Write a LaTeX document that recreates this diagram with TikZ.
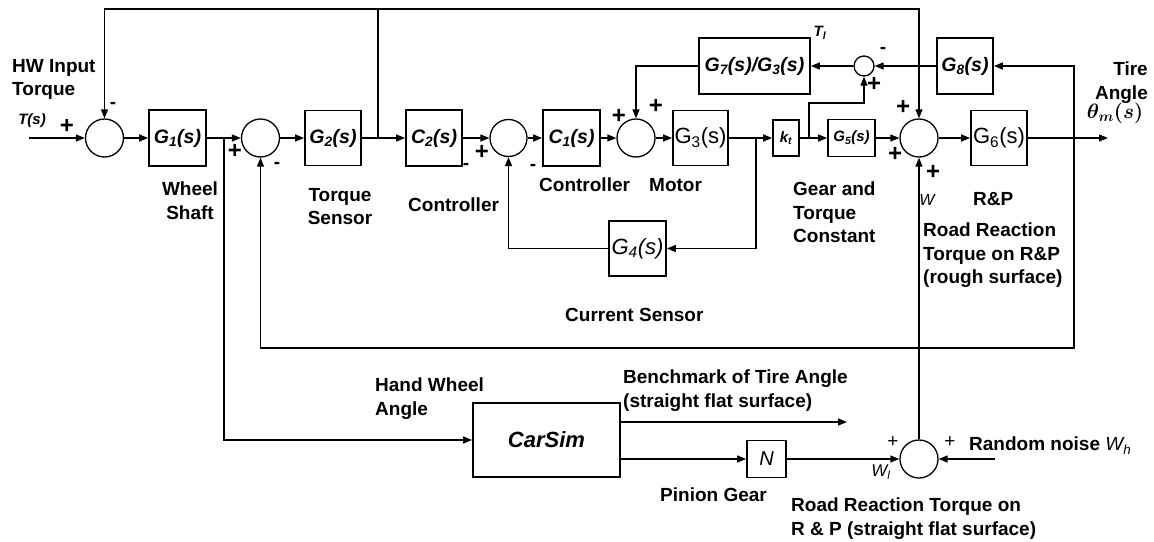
\documentclass[tikz,border=0pt]{standalone}
\usepackage{bm}
\usepackage{fontspec}
\setmainfont{Liberation Sans}
\usetikzlibrary{arrows.meta}
\newcommand{\lab}{\fontsize{19}{23.5}\selectfont\bfseries}
\newcommand{\bif}{\fontsize{19.5}{22}\selectfont\bfseries\itshape}
\newcommand{\sbif}{\fontsize{15}{18}\selectfont\bfseries\itshape}
\newcommand{\regf}{\fontsize{22}{24}\selectfont}
\newcommand{\regit}{\fontsize{22}{24}\selectfont\itshape}
\newcommand{\plusf}{\fontsize{24}{24}\selectfont\bfseries}
\newcommand{\thinf}{\fontsize{19}{20}\selectfont}
\tikzset{
  blk/.style={draw, line width=1.8pt, inner sep=0pt, font=\bif, minimum width=57pt, minimum height=56pt},
  sumc/.style={draw, circle, line width=1.3pt, minimum size=38pt, inner sep=0pt},
  ln/.style={line width=1.3pt},
  arr/.style={ln, -{Triangle[length=9pt,width=7pt]}},
  lbl/.style={font=\lab, inner sep=0pt, align=left, anchor=north west},
  sgn/.style={font=\plusf, inner sep=0pt},
  mns/.style={font=\lab, inner sep=0pt},
}
\begin{document}
\begin{tikzpicture}[x=1pt,y=-1pt]
\useasboundingbox (0,0) rectangle (1154,541);
% main row
\node[sumc] (s1) at (104.5,138) {};
\node[blk] (G1) at (177.5,138) {G\textsubscript{1}(s)};
\node[sumc] (s2) at (260.5,138) {};
\node[blk, minimum width=56pt, minimum height=55pt] (G2) at (333,138) {G\textsubscript{2}(s)};
\node[blk, minimum width=56pt] (C2) at (434,138) {C\textsubscript{2}(s)};
\node[sumc, minimum size=37pt] (s3) at (508.5,138) {};
\node[blk] (C1) at (571.5,138) {C\textsubscript{1}(s)};
\node[sumc] (s4) at (636,138) {};
\node[blk, minimum width=55pt, minimum height=55pt, font=\regf] (G3) at (700.5,138) {G\textsubscript{3}(s)};
\node[blk, minimum width=26pt, minimum height=36pt, font=\sbif] (kt) at (786,138) {k\textsubscript{t}};
\node[blk, minimum width=47pt, minimum height=37pt, font=\sbif] (G5) at (851.5,138) {G\textsubscript{5}(s)};
\node[sumc] (bs) at (919,138) {};
\node[blk, minimum width=56pt, minimum height=55pt, font=\regf] (G6) at (999,138) {G\textsubscript{6}(s)};
% upper row
\node[blk, minimum width=111pt] (G7) at (754.5,66) {G\textsubscript{7}(s)/G\textsubscript{3}(s)};
\node[sumc, minimum size=20pt] (s5) at (864,66) {};
\node[blk, minimum width=56pt] (G8) at (965,66) {G\textsubscript{8}(s)};
% current sensor
\node[blk, minimum height=55pt, font=\regit] (G4) at (637.5,248.5) {G\textsubscript{4}(s)};
% lower part
\node[blk, minimum width=147pt, minimum height=74pt, font=\fontsize{22}{24}\selectfont\bfseries\itshape] (CS) at (546.5,440) {CarSim};
\node[blk, minimum width=39pt, minimum height=37pt, font=\fontsize{20}{22}\selectfont\itshape] (N) at (766.5,459) {N};
\node[sumc] (ls) at (919,459) {};
% coordinates
\coordinate (in) at (29,138);
\coordinate (b1) at (224,138);
\coordinate (b2) at (378,138);
\coordinate (t1) at (378,9);
\coordinate (b3) at (756,138);
\coordinate (b4) at (809,138);
\coordinate (b5) at (1074,138);
\coordinate (out) at (1108,138);
\coordinate (fb) at (1074,348);
\coordinate (bm) at (847,422);
\coordinate (rn) at (995,459);
% connectors
\draw[arr] (in) -- (s1.west);
\draw[arr] (s1) -- (G1);
\draw[arr] (G1) -- (s2);
\draw[arr] (s2) -- (G2);
\draw[arr] (G2) -- (C2);
\draw[arr] (C2) -- (s3);
\draw[arr] (s3) -- (C1);
\draw[arr] (C1) -- (s4);
\draw[arr] (s4) -- (G3);
\draw[arr] (G3) -- (kt);
\draw[arr] (kt) -- (G5);
\draw[arr] (G5) -- (bs);
\draw[arr] (bs) -- (G6);
\draw[arr] (G6) -- (out);
\draw[arr] (b2) -- (t1) -| (s1.north);
\draw[arr] (t1) -| (bs.north);
\draw[arr] (b3) |- (G4.east);
\draw[arr] (G4.west) -| (s3.south);
\draw[arr] (G7.west) -| (s4.north);
\draw[arr] (s5) -- (G7);
\draw[arr] (b4) -- ++(0,-35) -| (s5.south);
\draw[arr] (b5) |- (G8.east);
\draw[arr] (G8) -- (s5);
\draw[arr] (b5) -- (fb) -| (s2.south);
\draw[arr] (b1) |- (CS.west);
\draw[arr] (CS.east |- bm) -- (bm);
\draw[arr] (CS.east |- N) -- (N.west);
\draw[arr] (N) -- (ls);
\draw[arr] (rn) -- (ls.east);
\draw[arr] (ls) -- (bs);
% labels
\node[lbl] (l1) at (12,59) {HW Input\\Torque};
\node[font=\sbif, inner sep=0pt] (l2) at (32,121) {T(s)};
\node[sgn] (p1) at (67,126) {+};
\node[mns] (m1) at (113,105) {-};
\node[lbl, align=center, anchor=north] (l3) at (190,182) {Wheel\\Shaft};
\node[sgn] (p2) at (235,151) {+};
\node[mns] (m2) at (277,165) {-};
\node[lbl, align=center, anchor=north] (l4) at (340,188) {Torque\\Sensor};
\node[lbl] (l5) at (408,198) {Controller};
\node[mns] (m3) at (466,166) {-};
\node[sgn] (p3) at (482,152) {+};
\node[mns] (m4) at (533,167) {-};
\node[lbl] (l6) at (539,178) {Controller};
\node[lbl] (l7) at (649,178) {Motor};
\node[sgn] (p4) at (619,116) {+};
\node[sgn] (p5) at (656,106) {+};
\node[font=\sbif, inner sep=0pt] (l8) at (820,33) {T\textsubscript{l}};
\node[mns] (m5) at (883,50) {-};
\node[sgn] (p6) at (874,84) {+};
\node[sgn] (p7) at (903,107) {+};
\node[sgn] (p8) at (895,154) {+};
\node[sgn] (p9) at (933,172) {+};
\node[font=\fontsize{16}{18}\selectfont\itshape, inner sep=0pt] (l9) at (927,200) {W};
\node[lbl] (l10) at (973,192) {R\&P};
\node[lbl] (l11) at (793,182) {Gear and\\Torque\\Constant};
\node[lbl] (l12) at (923,223) {Road Reaction\\Torque on R\&P\\(rough surface)};
\node[lbl, align=right, anchor=north east] (l13) at (1148,62) {Tire\\Angle};
\node[font=\fontsize{22}{24}\selectfont, inner sep=0pt] (l14) at (1115,113) {$\bm{\theta_m(s)}$};
\node[lbl] (l15) at (565,308) {Current Sensor};
\node[lbl] (l16) at (375,378) {Hand Wheel\\Angle};
\node[lbl] (l17) at (623,370) {Benchmark of Tire Angle\\(straight flat surface)};
\node[lbl] (l18) at (660,488) {Pinion Gear};
\node[lbl] (l19) at (791,498) {Road Reaction Torque on\\R \& P (straight flat surface)};
\node[font=\thinf, inner sep=0pt] (p10) at (893,442) {+};
\node[font=\thinf, inner sep=0pt] (p11) at (950,442) {+};
\node[font=\fontsize{17}{18}\selectfont\itshape, inner sep=0pt] (l20) at (881,472) {W\textsubscript{l}};
\node[lbl] (l21) at (969,437) {Random noise \textmd{\itshape W\textsubscript{h}}};
\end{tikzpicture}
\end{document}
